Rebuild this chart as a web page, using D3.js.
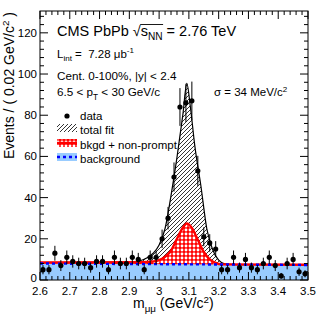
<!DOCTYPE html>
<html>
<head>
<meta charset="utf-8">
<script src="https://cdn.jsdelivr.net/npm/d3@7"></script>
<style>
  body { margin: 0; background: #fff; }
  svg { display: block; font-family: "Liberation Sans", Arial, Helvetica, sans-serif; }
  text { white-space: pre; }
</style>
</head>
<body>
<svg id="chart" width="332" height="319"></svg>
<script>
// bin centers (0.02 GeV/c^2 bins) and event counts
const binCenters = [2.61, 2.63, 2.65, 2.67, 2.69, 2.71, 2.73, 2.75, 2.77, 2.79,
                    2.81, 2.83, 2.85, 2.87, 2.89, 2.91, 2.93, 2.95, 2.97, 2.99,
                    3.01, 3.03, 3.05, 3.07, 3.09, 3.11, 3.13, 3.15, 3.17, 3.19,
                    3.21, 3.23, 3.25, 3.27, 3.29, 3.31, 3.33, 3.35, 3.37, 3.39,
                    3.41, 3.43, 3.45, 3.47, 3.49];
const counts = [5, 5, 13, 7, 11, 9, 8, 8, 6, 9,
                9, 5, 11, 8, 8, 11, 10, 5, 11, 11,
                20, 30, 50, 84, 86, 87, 53, 21, 18, 15,
                5, 5, 11, 6, 10, 6, 5, 8, 11, 7,
                2, 8, 10, 4, 3];

// total fit curve
const fitMass  = [2.60, 2.90, 2.93, 2.96, 2.98, 3.00, 3.02, 3.04, 3.06, 3.08, 3.093, 3.105, 3.12, 3.14, 3.16, 3.18, 3.20, 3.22, 3.25, 3.50];
const totalFit = [8.5, 8.6, 9.1, 10.8, 13, 17, 25, 41, 59.5, 80.5, 95.5, 84, 65, 46, 25, 14.7, 9.6, 7.9, 7.5, 7.4];

// background + non-prompt curve
const npMass = [2.60, 2.94, 2.98, 3.00, 3.02, 3.04, 3.06, 3.08, 3.093, 3.11, 3.13, 3.15, 3.17, 3.19, 3.21, 3.50];
const bkgNP  = [8.5, 8.6, 9.0, 9.6, 11.3, 14.2, 20, 25.5, 27.5, 25.3, 19.5, 13.6, 10, 8.3, 7.6, 7.4];

// pure background
const bgMass = [2.60, 3.50];
const bgVals = [8.0, 7.3];

const xTicks = [2.6, 2.7, 2.8, 2.9, 3.0, 3.1, 3.2, 3.3, 3.4, 3.5];
const xTickLabels = ["2.6", "2.7", "2.8", "2.9", "3", "3.1", "3.2", "3.3", "3.4", "3.5"];
const yTicks = [0, 20, 40, 60, 80, 100, 120];

const svg = d3.select("#chart");
const pLeft = 40, pRight = 308, pTop = 11, pBottom = 280;

const x = d3.scaleLinear().domain([2.6, 3.5]).range([pLeft, pRight]);
const y = d3.scaleLinear().domain([0, 130.6]).range([pBottom, pTop]);

// fill patterns
const defs = svg.append("defs");
const hatch = defs.append("pattern").attr("id", "hatch")
  .attr("patternUnits", "userSpaceOnUse").attr("width", 4).attr("height", 4);
hatch.append("rect").attr("width", 4).attr("height", 4).attr("fill", "#fff");
hatch.append("path").attr("d", "M-1,1 l2,-2 M0,4 l4,-4 M3,5 l2,-2")
  .attr("stroke", "#000").attr("stroke-width", 0.8);

const mesh = defs.append("pattern").attr("id", "mesh")
  .attr("patternUnits", "userSpaceOnUse").attr("width", 4).attr("height", 4);
mesh.append("rect").attr("width", 4).attr("height", 4).attr("fill", "#ff0000");
mesh.append("circle").attr("cx", 2).attr("cy", 2).attr("r", 1.45).attr("fill", "#fff");

defs.append("clipPath").attr("id", "frame")
  .append("rect").attr("x", pLeft).attr("y", pTop)
  .attr("width", pRight - pLeft).attr("height", pBottom - pTop);

const plot = svg.append("g").attr("clip-path", "url(#frame)");

const toPts = (ms, vs) => ms.map((m, i) => [m, vs[i]]);
const area = d3.area().x(d => x(d[0])).y0(y(0)).y1(d => y(d[1])).curve(d3.curveMonotoneX);
const line = d3.line().x(d => x(d[0])).y(d => y(d[1])).curve(d3.curveMonotoneX);

// stacked fills: total, bkgd + non-prompt, background
plot.append("path").attr("d", area(toPts(fitMass, totalFit))).attr("fill", "url(#hatch)");
plot.append("path").attr("d", area(toPts(npMass, bkgNP))).attr("fill", "url(#mesh)");
plot.append("path").attr("d", area(toPts(bgMass, bgVals))).attr("fill", "#99ccff");

plot.append("path").attr("d", line(toPts(fitMass, totalFit)))
  .attr("fill", "none").attr("stroke", "#000").attr("stroke-width", 1.2);
plot.append("path").attr("d", line(toPts(npMass, bkgNP)))
  .attr("fill", "none").attr("stroke", "#ff0000").attr("stroke-width", 2.4);
plot.append("path").attr("d", line(toPts(bgMass, bgVals)))
  .attr("fill", "none").attr("stroke", "#0000ff").attr("stroke-width", 2.4)
  .attr("stroke-dasharray", "3,3");

// data points with poisson error bars
const pts = plot.append("g");
binCenters.forEach((m, i) => {
  const n = counts[i], e = Math.sqrt(n);
  pts.append("line").attr("x1", x(m)).attr("x2", x(m))
    .attr("y1", y(n - e)).attr("y2", y(n + e))
    .attr("stroke", "#000").attr("stroke-width", 1);
  pts.append("circle").attr("cx", x(m)).attr("cy", y(n)).attr("r", 2.6).attr("fill", "#000");
});

// frame and ticks on all four sides
svg.append("rect").attr("x", pLeft).attr("y", pTop)
  .attr("width", pRight - pLeft).attr("height", pBottom - pTop)
  .attr("fill", "none").attr("stroke", "#000").attr("stroke-width", 1);

const ticks = svg.append("g").attr("stroke", "#000").attr("stroke-width", 1);
d3.range(0, 46).forEach(k => {
  const xx = x(2.6 + k * 0.02);
  const len = k % 5 === 0 ? 8 : 4;
  ticks.append("line").attr("x1", xx).attr("x2", xx).attr("y1", pBottom).attr("y2", pBottom - len);
  ticks.append("line").attr("x1", xx).attr("x2", xx).attr("y1", pTop).attr("y2", pTop + len);
});
d3.range(0, 33).forEach(k => {
  const yy = y(k * 4);
  const len = k % 5 === 0 ? 8 : 4;
  ticks.append("line").attr("x1", pLeft).attr("x2", pLeft + len).attr("y1", yy).attr("y2", yy);
  ticks.append("line").attr("x1", pRight).attr("x2", pRight - len).attr("y1", yy).attr("y2", yy);
});

// tick labels
svg.append("g").selectAll("text").data(xTicks).join("text")
  .attr("x", d => x(d)).attr("y", 294.5).attr("text-anchor", "middle")
  .style("font-size", "11.5px").text((d, i) => xTickLabels[i]);
svg.append("g").selectAll("text").data(yTicks).join("text")
  .attr("x", 37).attr("y", d => y(d) + (d === 0 ? 2 : 4)).attr("text-anchor", "end")
  .style("font-size", "11.5px").text(d => d);

// rich text helper: parts = [[string, "n"|"sub"|"sup"], ...]
function rich(g, px, py, parts, size) {
  const t = g.append("text").attr("x", px).attr("y", py).style("font-size", size + "px");
  let off = 0;
  parts.forEach(([s, k]) => {
    const target = k === "sub" ? size * 0.3 : k === "sup" ? -size * 0.38 : 0;
    const sp = t.append("tspan").attr("dy", target - off).text(s);
    if (k !== "n") sp.style("font-size", (size * 0.7) + "px");
    off = target;
  });
  return t;
}

const txt = svg.append("g").attr("fill", "#000");

// CMS PbPb sqrt(s_NN) = 2.76 TeV
const head = rich(txt, 57, 36, [["CMS PbPb ", "n"], ["\u221A", "n"], ["s", "n"], ["NN", "sub"], [" = 2.76 TeV", "n"]], 14.5);
const hn = head.node();
const sx1 = hn.getEndPositionOfChar(12).x;
txt.append("line").attr("x1", hn.getEndPositionOfChar(9).x - 0.5).attr("x2", sx1 + 0.5)
  .attr("y1", 24.5).attr("y2", 24.5).attr("stroke", "#000").attr("stroke-width", 0.9);

rich(txt, 57, 57.5, [["L", "n"], ["int", "sub"], [" =  7.28 \u03BCb", "n"], ["-1", "sup"]], 11.5);
rich(txt, 57, 80, [["Cent. 0-100%, |y| < 2.4", "n"]], 11.7);
rich(txt, 57, 96, [["6.5 < p", "n"], ["T", "sub"], [" < 30 GeV/c", "n"]], 11.7);
rich(txt, 214, 96, [["\u03C3 = 34 MeV/c", "n"], ["2", "sup"]], 11.5);

// legend
const leg = svg.append("g");
leg.append("circle").attr("cx", 67).attr("cy", 116).attr("r", 2.6).attr("fill", "#000");
leg.append("rect").attr("x", 57).attr("y", 124).attr("width", 20).attr("height", 8).attr("fill", "url(#hatch)");
leg.append("rect").attr("x", 57).attr("y", 139).attr("width", 20).attr("height", 8).attr("fill", "url(#mesh)");
leg.append("line").attr("x1", 57).attr("x2", 77).attr("y1", 143).attr("y2", 143)
  .attr("stroke", "#ff0000").attr("stroke-width", 2.4);
leg.append("rect").attr("x", 57).attr("y", 153).attr("width", 20).attr("height", 8).attr("fill", "#99ccff");
leg.append("line").attr("x1", 57).attr("x2", 77).attr("y1", 157).attr("y2", 157)
  .attr("stroke", "#0000ff").attr("stroke-width", 2.4).attr("stroke-dasharray", "3,3");
const legText = ["data", "total fit", "bkgd + non-prompt", "background"];
leg.selectAll("text.l").data(legText).join("text").attr("class", "l")
  .attr("x", 80).attr("y", (d, i) => 120 + i * 14.3)
  .style("font-size", "11.5px").text(d => d);

// axis titles
rich(txt, 133, 308, [["m", "n"], ["\u03BC\u03BC", "sub"], [" (GeV/c", "n"], ["2", "sup"], [")", "n"]], 14);
const yl = txt.append("g").attr("transform", "translate(14,12) rotate(-90)");
rich(yl, 0, 0, [["Events / ( 0.02 GeV/c", "n"], ["2", "sup"], [" )", "n"]], 14)
  .attr("text-anchor", "end");
</script>
</body>
</html>
